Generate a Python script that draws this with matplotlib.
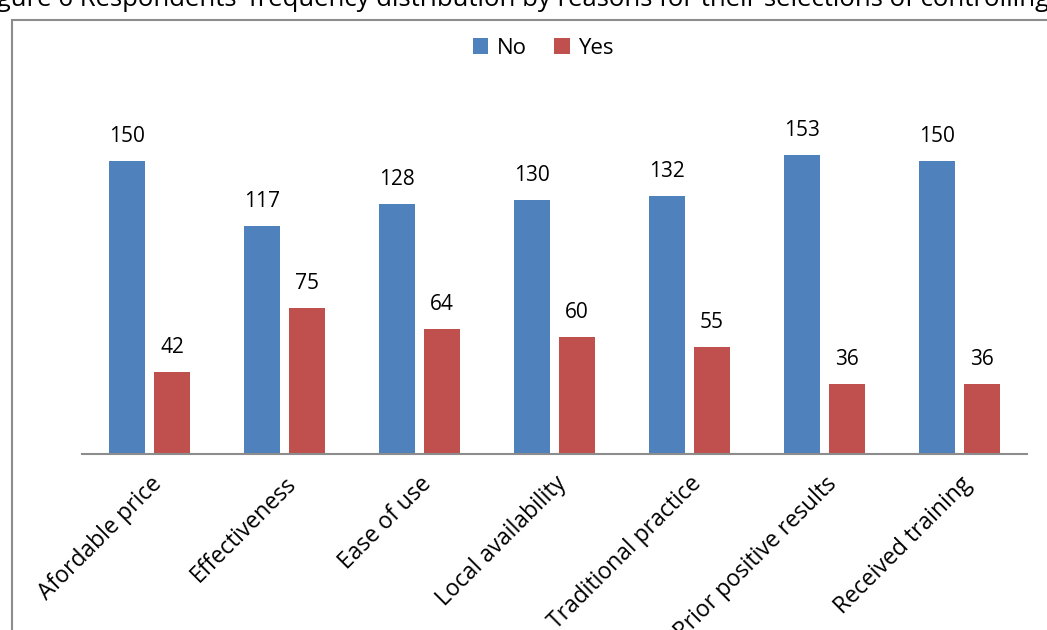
import matplotlib.pyplot as plt
import matplotlib.patches as patches
import numpy as np

plt.rcParams['font.family'] = ['Open Sans', 'DejaVu Sans']

# Reasons for choosing the control method
reasons = ['Afordable price', 'Effectiveness', 'Ease of use', 'Local availability',
           'Traditional practice', 'Prior positive results', 'Received training']
no_counts = [150, 117, 128, 130, 132, 153, 150]
yes_counts = [42, 75, 64, 60, 55, 36, 36]

blue = '#4F81BD'
red = '#C0504D'

fig = plt.figure(figsize=(10.47, 6.3), dpi=100)

# caption line sitting above the chart frame
fig.text(1049 / 1047, 1 - 6 / 630,
         "Figure 6 Respondents' frequency distribution by reasons for their selections of controlling",
         fontsize=18.5, ha='right', va='baseline', color='black')

# chart frame
frame = patches.Rectangle((12 / 1047, -0.05), 1.1, 1 - 20 / 630 + 0.05,
                          transform=fig.transFigure, fill=False,
                          edgecolor='#8c8c8c', linewidth=1.5, clip_on=False)
fig.patches.append(frame)

ax = fig.add_axes([82 / 1047, (630 - 454) / 630, 945 / 1047, (454 - 102.5) / 630])

x = np.arange(len(reasons))
w = 36 / 135
off = 22.5 / 135
b1 = ax.bar(x - off, no_counts, w, color=blue, label='No')
b2 = ax.bar(x + off, yes_counts, w, color=red, label='Yes')

for bars, vals in [(b1, no_counts), (b2, yes_counts)]:
    for bar, v in zip(bars, vals):
        ax.annotate(str(v), (bar.get_x() + bar.get_width() / 2, v),
                    xytext=(0, 10), textcoords='offset points',
                    ha='center', va='bottom', fontsize=15)

ax.set_xlim(-0.5, len(reasons) - 0.5)
ax.set_ylim(0, 180)
ax.set_xticks(x)
ax.set_xticklabels(reasons, rotation=45, ha='right', rotation_mode='anchor', fontsize=16.5)
ax.tick_params(axis='x', length=0, pad=13)
for lbl in ax.get_xticklabels():
    lbl.set_x(lbl.get_position()[0])
ax.set_yticks([])
for s in ['top', 'right', 'left']:
    ax.spines[s].set_visible(False)
ax.spines['bottom'].set_color('#8c8c8c')
ax.spines['bottom'].set_linewidth(1.5)

fig.legend(handles=[b1, b2], loc='center', bbox_to_anchor=(0.519, 1 - 48 / 630),
           ncol=2, frameon=False, fontsize=16, handlelength=0.7, handleheight=0.7,
           handletextpad=0.4, columnspacing=1.2)

fig.savefig('out.png', dpi=100)
